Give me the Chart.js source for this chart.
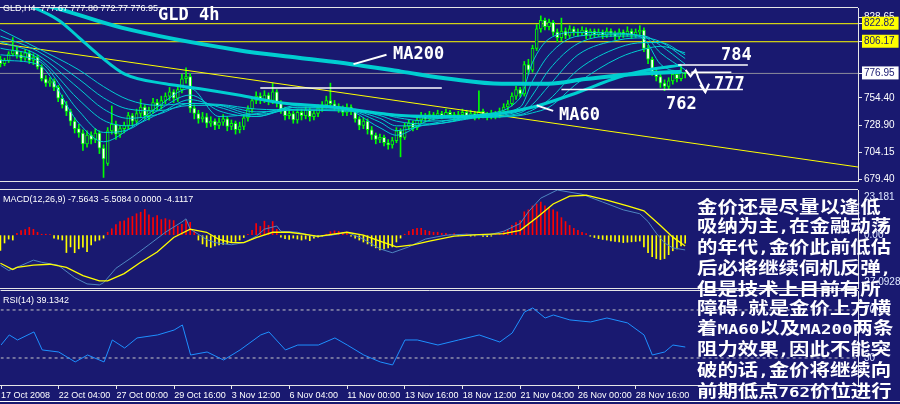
<!DOCTYPE html>
<html>
<head>
<meta charset="utf-8">
<title>GLD 4h</title>
<script src="https://cdn.jsdelivr.net/npm/chart.js@4.4.1/dist/chart.umd.min.js"></script>
<style>
  html, body { margin: 0; padding: 0; background: #191970; }
  #wrap { position: relative; width: 900px; height: 404px; overflow: hidden; background: #191970; }
  #wrap canvas { position: absolute; left: 0; }
  .hdr { position: absolute; left: 3px; color: #fff; font: 9px "Liberation Sans", Arial, sans-serif; line-height: 10px; white-space: nowrap; }
  .axl { position: absolute; left: 864px; color: #dfe8ff; font: 10px "Liberation Sans", Arial, sans-serif; line-height: 10px; white-space: nowrap; }
  .ann { position: absolute; color: #fff; font: bold 17px "DejaVu Sans Mono", monospace; line-height: 17px; white-space: nowrap; }
  #note { position: absolute; left: 697px; top: 197px; color: #fff; font-family: "Noto Sans CJK SC", sans-serif; font-weight: bold;
          font-size: 17px; line-height: 18.9px; white-space: nowrap; transform: scaleX(1.2); transform-origin: 0 0; }
  #note .l { font-family: "DejaVu Sans Mono", monospace; font-size: 14.5px; }
  #bottomline { position: absolute; left: 0; top: 401px; width: 900px; height: 1px; background: #fff; }
</style>
</head>
<body>
<div id="wrap">
  <canvas id="main" width="900" height="189" style="top:0"></canvas>
  <canvas id="macd" width="900" height="100" style="top:189px"></canvas>
  <canvas id="rsi" width="900" height="115" style="top:289px"></canvas>
  <div id="bottomline"></div>

  <div class="hdr" style="top:3px">GLD,H4&nbsp; 777.67 777.80 772.77 776.95</div>
  <div class="hdr" style="top:194px">MACD(12,26,9) -7.5643 -5.5084 0.0000 -4.1117</div>
  <div class="hdr" style="top:295px">RSI(14) 39.1342</div>

  <div class="axl" style="top:192px">23.181</div>
  <div class="axl" style="top:230px">0.00</div>
  <div class="axl" style="top:277px;left:861px">-27.0928</div>
  <div class="axl" style="top:305px">70</div>
  <div class="axl" style="top:353px">30</div>

  <div class="ann" style="left:158px;top:6px">GLD 4h</div>
  <div class="ann" style="left:393px;top:45px">MA200</div>
  <div class="ann" style="left:559px;top:106px">MA60</div>
  <div class="ann" style="left:721px;top:46px">784</div>
  <div class="ann" style="left:714px;top:75px">777</div>
  <div class="ann" style="left:666px;top:95px">762</div>

  <div id="note">
    <div>金价还是尽量以逢低</div>
    <div>吸纳为主<span class="l">,</span>在金融动荡</div>
    <div>的年代<span class="l">,</span>金价此前低估</div>
    <div>后必将继续伺机反弹<span class="l">,</span></div>
    <div>但是技术上目前有所</div>
    <div>障碍<span class="l">,</span>就是金价上方横</div>
    <div>着<span class="l">MA60</span>以及<span class="l">MA200</span>两条</div>
    <div>阻力效果<span class="l">,</span>因此不能突</div>
    <div>破的话<span class="l">,</span>金价将继续向</div>
    <div>前期低点<span class="l">762</span>价位进行</div>
  </div>
</div>

<script>
// 4h bars, index 0 = 17 Oct 2008
const opens = [790,786,789,795,798,794,791,796,789,792, 783,772,768,770,764,754,748,742,733,726,
  722,712,720,716,722,708,694,724,730,721, 726,729,738,733,740,746,738,743,750,747,
  752,756,760,754,762,772,774,745,740,735, 737,731,733,729,732,735,728,731,725,728,
  736,744,752,756,753,757,752,760,750,744, 738,740,734,741,738,743,737,740,745,748,
  752,749,746,744,741,746,742,735,729,733, 725,720,716,718,713,711,715,724,718,728,
  731,727,734,738,735,739,737,740,738,741, 739,736,739,741,738,740,737,742,739,737,
  740,738,742,746,749,756,762,758,785,780, 800,818,826,820,824,815,810,816,812,818,
  815,814,817,812,816,813,815,812,816,814, 811,815,813,816,812,815,817,800,790,778,
  774,768,765,770,776,772,777.67];
const highs = [793,791,797,810,801,797,799,798,795,794, 785,775,773,772,766,757,751,744,736,730,
  725,724,723,726,724,711,727,747,733,729, 732,741,740,744,753,748,746,754,753,756,
  759,764,762,766,776,782,777,748,743,741, 740,737,735,736,739,737,734,733,732,739,
  747,755,760,759,761,759,768,762,752,746, 744,742,744,744,746,745,743,748,751,756,
  768,752,749,747,749,748,744,737,736,735, 728,722,721,720,716,718,727,726,731,734,
  733,737,741,740,742,741,743,742,744,743, 741,742,744,743,743,742,761,744,741,743,
  742,745,749,752,759,765,764,788,790,803, 822,830,828,827,826,818,828,819,821,820,
  818,820,819,818,818,818,817,819,818,816, 818,817,820,818,818,821,819,803,792,781,
  777,771,773,780,778,784,777.80];
const lows = [783,784,787,793,791,788,789,786,785,781, 770,765,765,761,751,745,738,729,722,718,
  706,709,712,713,703,681,692,721,716,718, 722,726,729,730,737,735,734,740,743,744,
  749,752,750,751,759,768,741,735,731,732, 727,728,725,726,729,724,725,721,722,725,
  733,741,749,749,750,748,749,746,740,734, 735,731,731,734,735,733,734,737,742,745,
  746,743,741,738,738,739,732,725,726,721, 716,712,713,710,707,708,713,700,716,725,
  724,725,731,732,733,734,735,735,736,736, 733,734,737,735,736,734,735,736,734,735,
  735,736,740,743,747,753,755,756,776,778, 798,815,817,817,812,806,807,809,810,812,
  811,812,809,810,810,811,809,810,811,808, 809,810,811,809,810,812,797,786,775,770,
  764,761,762,767,769,770,772.77];
const closes = [786,789,795,798,794,791,796,789,792,783, 772,768,770,764,754,748,742,733,726,722,
  712,720,716,722,708,698,724,730,721,726, 729,738,733,740,746,738,743,750,747,752,
  756,760,754,762,772,774,745,740,735,737, 731,733,729,732,735,728,731,725,728,736,
  744,752,756,753,757,752,760,750,744,738, 740,734,741,738,743,737,740,745,748,752,
  749,746,744,741,746,742,735,729,733,725, 720,716,718,713,711,715,724,718,728,731,
  727,734,738,735,739,737,740,738,741,739, 736,739,741,738,740,737,742,739,737,740,
  738,742,746,749,756,762,758,785,780,800, 818,826,820,824,815,810,816,812,818,815,
  814,817,812,816,813,815,812,816,814,811, 815,813,816,812,815,817,800,790,778,774,
  768,765,770,776,772,778,776.95];

// moving averages (bar position, price)
const ma200Idx = [-0.5, 11.6, 29.3, 57.7, 72.2, 85.1, 97.2, 109.3, 121.5, 132.8, 141.8, 152.2, 165.1];
const ma200Val = [847.6, 839.0, 819.2, 798.4, 791.5, 785.5, 778.6, 771.7, 767.4, 767.4, 771.7, 776.0, 778.6];
const ma60Idx = [-0.5, 4.4, 14.1, 18.9, 23.8, 30.3, 40, 48, 57.7, 67.4, 81.2, 97.2, 109.3, 120.7, 129.9, 140.1, 149.8, 157.1, 165.1];
const ma60Val = [850.0, 843.3, 826.1, 810.5, 794.1, 776.0, 767.4, 763.1, 757.0, 750.1, 745.8, 738.1, 737.2, 739.8, 746.7, 759.6, 773.4, 780.3, 784.6];
const ribbonIdx = [0, 9, 19, 25, 31, 38, 46, 53, 62, 72, 82, 92, 96, 104, 116, 126, 129, 133, 140, 150, 156, 160, 166];
const rib1 = [789.0, 785.5, 731.1, 713.9, 725.1, 745.8, 763.1, 737.2, 739.8, 745.8, 745.8, 726.8, 719.9, 733.7, 738.9, 754.4, 787.2, 808.8, 814.8, 814.0, 808.8, 785.5, 776.9];
const rib2 = [794.1, 789.0, 742.4, 722.5, 725.1, 742.4, 757.0, 742.4, 737.2, 747.5, 745.8, 732.0, 724.2, 730.3, 738.1, 745.8, 770.0, 794.1, 811.4, 813.1, 811.4, 795.9, 780.3];
const rib3 = [800.2, 791.5, 752.7, 733.7, 728.6, 738.9, 752.7, 745.8, 737.2, 745.8, 744.9, 735.5, 728.6, 729.4, 737.2, 742.4, 757.0, 780.3, 804.5, 811.4, 811.4, 802.8, 785.5];
const rib4 = [806.2, 794.1, 763.1, 744.1, 735.5, 738.9, 749.3, 747.5, 738.9, 744.1, 744.1, 738.1, 732.9, 730.3, 736.3, 740.6, 748.4, 765.7, 794.1, 807.9, 809.7, 806.2, 790.7];
const rib5 = [811.4, 797.6, 771.7, 754.4, 744.1, 742.4, 747.5, 747.5, 741.5, 743.2, 743.2, 739.8, 736.3, 732.9, 736.3, 738.9, 743.2, 752.7, 780.3, 801.0, 805.4, 805.4, 794.1];
const rib6 = [817.4, 800.2, 780.3, 764.8, 752.7, 747.5, 749.3, 748.4, 744.1, 743.2, 742.4, 740.6, 738.9, 735.5, 736.3, 738.1, 740.6, 745.8, 768.3, 791.5, 799.3, 801.9, 795.9];

// drawn objects on the price window
const yellowLevels = [822.82, 806.17];
const lastPrice = 776.95;
const trendIdx = [-0.1, 207.9];
const trendVal = [804.5, 690.6];
const whiteLevels = [[63, 107, 763.5], [136, 180, 762.2], [164.3, 181.2, 784.6], [167.5, 177.2, 778.0]];
const ma200Pointer = [[85.6, 785.5], [93.6, 794.1]];
const ma60Pointer = [[130, 747.5], [134, 742.4]];
const arrowPath = [[166.1, 780.3], [167.3, 774.3], [168.5, 780.3], [169.2, 772.6], [170.9, 759.6]];
const arrowHead = [[169.6, 766.5], [170.9, 759.6], [171.8, 767.4]];
const priceTicks = [828.65, 822.82, 806.17, 776.95, 754.40, 728.90, 704.15, 679.40];

// MACD window
const macdHist = [-7.8, -4.0, -2.0, -2.5, 1.0, 2.3, 2.9, 4.0, 3.0, 1.5,
  0.5, 0.5, 0.3, -1.5, -2.0, -2.5, -8.9, -6.0, -9.0, -7.0,
  -6.2, -8.5, -5.0, -3.0, -2.5, -1.5, 1.5, 3.3, 5.5, 7.0,
  7.4, 8.8, 9.6, 11.0, 11.8, 13.2, 10.5, 9.0, 10.0, 8.0,
  8.5, 7.8, 7.5, 4.7, 5.6, 7.7, 6.6, 2.0, -2.5, -4.5,
  -5.8, -6.3, -5.5, -5.0, -4.8, -4.5, -3.6, -3.2, -2.5, -1.2,
  0.5, 2.5, 6.0, 4.5, 7.2, 5.0, 7.0, 3.0, -1.0, -1.8,
  -2.2, -1.5, -2.0, -2.5, -2.0, -2.8, -1.5, -1.0, -0.5, 0.5,
  1.8, 2.2, 2.0, 1.5, 1.0, -0.5, -1.5, -2.5, -3.5, -4.5,
  -5.5, -6.5, -7.5, -7.0, -6.5, -6.0, -3.5, -1.5, 0.5, 2.0,
  3.0, 3.5, 3.5, 2.5, 2.0, 1.5, 1.5, 1.0, 1.0, 0.5,
  0.8, -0.3, 0.4, 0.6, -0.5, -0.4, 0.5, -0.6, -0.8, -0.5,
  0.3, 0.8, 2.0, 3.0, 5.0, 6.5, 7.5, 12.0, 13.0, 15.0,
  16.0, 17.0, 15.0, 14.0, 13.0, 12.0, 9.0, 7.0, 5.0, 3.5,
  2.5, 1.5, 0.8, -0.5, -1.2, -1.8, -2.2, -2.5, -3.0, -3.2,
  -3.5, -3.8, -3.6, -3.4, -3.2, -3.0, -6.0, -9.0, -11.0, -12.0,
  -12.5, -12.0, -10.0, -8.0, -7.0, -5.5, -4.11];
const macdIdx = [0, 2, 4, 8, 10, 14, 18, 21, 24, 25, 28, 32, 36, 40, 44, 45, 46, 50, 52, 56,
  59, 62, 64, 67, 68, 72, 76, 80, 84, 88, 92, 95, 99, 103, 108, 113, 118, 122, 126, 128,
  131, 135, 141, 146, 151, 155, 157, 159, 161, 163, 166];
const macdVal = [-15.4, -18.1, -16.5, -12.8, -13.9, -15.4, -21.8, -25.0, -25.5, -24.4, -17.0, -11.2, -4.9, 1.5, 6.8, 8.4, 3.1, -2.2, -3.8, -4.9,
  -3.8, -0.6, 3.1, 4.7, 2.0, 1.5, -0.6, -0.1, 1.5, -2, -7, -9, -6, -2, 0, 0.5, 0, 2, 6, 12,
  19, 23.18, 21, 17, 13, 11, 7, 1, -4, -6.5, -7.56];
const signalIdx = [0, 3, 4, 8, 12, 16, 20, 24, 26, 30, 34, 38, 42, 46, 50, 53, 56, 59, 62, 66,
  70, 74, 77, 84, 88, 92, 96, 100, 104, 110, 116, 122, 126, 130, 134, 138, 142, 147, 152, 156, 160, 163, 166];
const signalVal = [-14.4, -17.6, -16.5, -15.4, -14.9, -16.5, -20.7, -23.4, -23.4, -19.7, -13.9, -8.6, -1.2, 3.1, 1.5, -2.2, -3.8, -3.8, -1.2, 1.5,
  1.5, 0.4, -0.6, 1.5, 0, -3, -6, -5, -3, -0.5, 0.3, 0.8, 2.5, 9, 16, 20, 20.5, 18, 15, 12.5, 5, -1, -5.51];

// RSI window
const rsiIdx = [0, 2, 4, 8, 10, 14, 18, 21, 25, 27, 30, 33, 38, 42, 44, 46, 50, 54, 58, 63, 65, 69, 72, 77, 81,
  84, 88, 92, 95, 98, 101, 106, 111, 116, 121, 124, 127, 129, 132, 134, 138, 143, 147, 152, 156, 158, 161, 163, 166];
const rsiVal = [40.8, 49.2, 45.0, 51.7, 36.7, 35.0, 26.7, 32.5, 26.7, 45.0, 38.3, 46.7, 49.2, 53.3, 57.5, 32.5, 35.0, 28.3, 36.7, 49.2, 51.7, 36.7, 40.8, 40.8, 46.7,
  40.8, 32.5, 26.7, 24.2, 45.0, 45.0, 40.8, 45.0, 49.2, 43.3, 50.8, 68.3, 71.7, 63.3, 65.8, 61.7, 60.0, 63.3, 59.2, 49.2, 32.5, 35.0, 40.8, 39.13];
const rsiLevels = [70, 30];

// time axis
const xTickPos = [0, 14, 28, 42, 56, 70, 84, 98, 112, 126, 140, 154];
const xTickLabels = ["17 Oct 2008", "22 Oct 04:00", "27 Oct 00:00", "29 Oct 16:00", "3 Nov 12:00", "6 Nov 04:00",
  "11 Nov 00:00", "13 Nov 16:00", "18 Nov 12:00", "21 Nov 04:00", "26 Nov 00:00", "28 Nov 16:00"];

const BG = "#191970";
const CYAN = "#00CED1";
const LIME = "#00FF00";
const xMin = -0.1, xMax = 207.9;

const pts = (idx, vals) => idx.map((x, k) => ({ x: x, y: vals[k] }));
const pairs = arr => arr.map(p => ({ x: p[0], y: p[1] }));
const flat = (y) => [{ x: xMin, y: y }, { x: xMax, y: y }];

function line(data, color, width, order, extra) {
  return Object.assign({
    type: "line", data: data, borderColor: color, borderWidth: width,
    pointRadius: 0, fill: false, tension: 0, order: order
  }, extra || {});
}

// thin top/bottom frame of each window
const framePlugin = {
  id: "frame",
  afterDraw(chart) {
    const a = chart.chartArea, c = chart.ctx;
    c.save();
    c.strokeStyle = "#e6e6e6";
    c.lineWidth = 1;
    c.beginPath();
    c.moveTo(a.left, a.top - 0.5); c.lineTo(a.right, a.top - 0.5);
    c.moveTo(a.left, a.bottom + 0.5); c.lineTo(a.right, a.bottom + 0.5);
    c.stroke();
    c.restore();
  }
};

function baseOptions(yScale, pad) {
  return {
    responsive: false,
    animation: false,
    devicePixelRatio: 1,
    events: [],
    layout: { padding: { left: 0, right: 0, top: pad[0], bottom: pad[1] } },
    plugins: { legend: { display: false }, tooltip: { enabled: false } },
    scales: {
      x: { type: "linear", min: xMin, max: xMax, offset: false, display: false },
      y: Object.assign({
        type: "linear", position: "right",
        afterFit: s => { s.width = 42; },
        border: { display: true, color: "#e6e6e6" },
        grid: { drawOnChartArea: false, drawTicks: false },
        ticks: { display: false }
      }, yScale)
    }
  };
}

// ---------- price window ----------
const candleWicks = {
  type: "bar", data: opens.map((o, i) => ({ x: i, y: [lows[i], highs[i]] })),
  backgroundColor: LIME, barThickness: 1, grouped: false, order: 9
};
const candleBodies = {
  type: "bar", data: opens.map((o, i) => ({ x: i, y: [o, closes[i]] })),
  backgroundColor: opens.map((o, i) => closes[i] >= o ? BG : "#ffffff"),
  borderColor: LIME, borderWidth: 1, borderSkipped: false,
  barThickness: 3, grouped: false, order: 8
};

const mainSets = [
  line(flat(yellowLevels[0]), "#ffff00", 1, 10),
  line(flat(yellowLevels[1]), "#ffff00", 1, 10),
  line(flat(lastPrice), "#8c8c9c", 1, 10),
  line(pts(trendIdx, trendVal), "#ffff00", 1, 7),
  candleWicks, candleBodies,
  line(pts(ribbonIdx, rib6), CYAN, 1, 5, { cubicInterpolationMode: "monotone" }),
  line(pts(ribbonIdx, rib5), CYAN, 1, 5, { cubicInterpolationMode: "monotone" }),
  line(pts(ribbonIdx, rib4), CYAN, 1, 5, { cubicInterpolationMode: "monotone" }),
  line(pts(ribbonIdx, rib3), CYAN, 1, 5, { cubicInterpolationMode: "monotone" }),
  line(pts(ribbonIdx, rib2), CYAN, 1, 5, { cubicInterpolationMode: "monotone" }),
  line(pts(ribbonIdx, rib1), CYAN, 1, 5, { cubicInterpolationMode: "monotone" }),
  line(pts(ma60Idx, ma60Val), CYAN, 3, 4, { cubicInterpolationMode: "monotone" }),
  line(pts(ma200Idx, ma200Val), CYAN, 4, 4, { cubicInterpolationMode: "monotone" })
];
whiteLevels.forEach(w => mainSets.push(line([{ x: w[0], y: w[2] }, { x: w[1], y: w[2] }], "#ffffff", 1.5, 1)));
mainSets.push(line(pairs(ma200Pointer), "#ffffff", 2, 1));
mainSets.push(line(pairs(ma60Pointer), "#ffffff", 2, 1));
mainSets.push(line(pairs(arrowPath), "#ffffff", 2, 1));
mainSets.push(line(pairs(arrowHead), "#ffffff", 2, 1));

const boxColor = { "822.82": "#ffff00", "806.17": "#ffff00", "776.95": "#ffffff" };

new Chart(document.getElementById("main"), {
  type: "bar",
  data: { datasets: mainSets },
  options: baseOptions({
    min: 677.7, max: 837.3,
    afterBuildTicks: s => { s.ticks = priceTicks.map(v => ({ value: v })); },
    grid: { drawOnChartArea: false, drawTicks: true, tickLength: 4, color: "#e6e6e6" },
    ticks: {
      display: true, autoSkip: false, padding: 2,
      font: { family: "Liberation Sans", size: 10 },
      color: ctx => boxColor[ctx.tick.value.toFixed(2)] ? BG : "#ffffff",
      showLabelBackdrop: true,
      backdropColor: ctx => boxColor[ctx.tick.value.toFixed(2)] || "rgba(0,0,0,0)",
      backdropPadding: { top: 1, bottom: 0, left: 2, right: 4 },
      callback: v => Number(v).toFixed(2)
    }
  }, [2, 2]),
  plugins: [framePlugin]
});

// ---------- MACD window ----------
new Chart(document.getElementById("macd"), {
  type: "bar",
  data: {
    datasets: [
      {
        type: "bar", data: macdHist.map((v, i) => ({ x: i, y: v })),
        backgroundColor: macdHist.map(v => v >= 0 ? "#ff0000" : "#ffff00"),
        barThickness: 1, grouped: false, order: 5
      },
      line(pts(macdIdx, macdVal), "#4f86c0", 1, 2),
      line(pts(signalIdx, signalVal), "#ffff00", 1.3, 1)
    ]
  },
  options: baseOptions({ min: -27.0928, max: 23.181 }, [1, 1]),
  plugins: [framePlugin]
});

// ---------- RSI window ----------
const rsiOpts = baseOptions({ min: 7.5, max: 85.8 }, [2, 2]);
rsiOpts.scales.x = {
  type: "linear", min: xMin, max: xMax, offset: false, display: true,
  afterFit: s => { s.height = 17; },
  afterBuildTicks: s => { s.ticks = xTickPos.map(v => ({ value: v })); },
  border: { display: true, color: "#e6e6e6" },
  grid: { drawOnChartArea: false, drawTicks: true, tickLength: 4, color: "#e6e6e6" },
  ticks: {
    autoSkip: false, maxRotation: 0, align: "start", padding: 1,
    color: "#ffffff", font: { family: "Liberation Sans", size: 9 },
    callback: (v, i) => xTickLabels[i]
  }
};
new Chart(document.getElementById("rsi"), {
  type: "line",
  data: {
    datasets: rsiLevels.map(v => line(flat(v), "#c8c8c8", 1, 3, { borderDash: [3, 3] }))
      .concat([line(pts(rsiIdx, rsiVal), "#1E90FF", 1, 1)])
  },
  options: rsiOpts,
  plugins: [framePlugin]
});
</script>
</body>
</html>
